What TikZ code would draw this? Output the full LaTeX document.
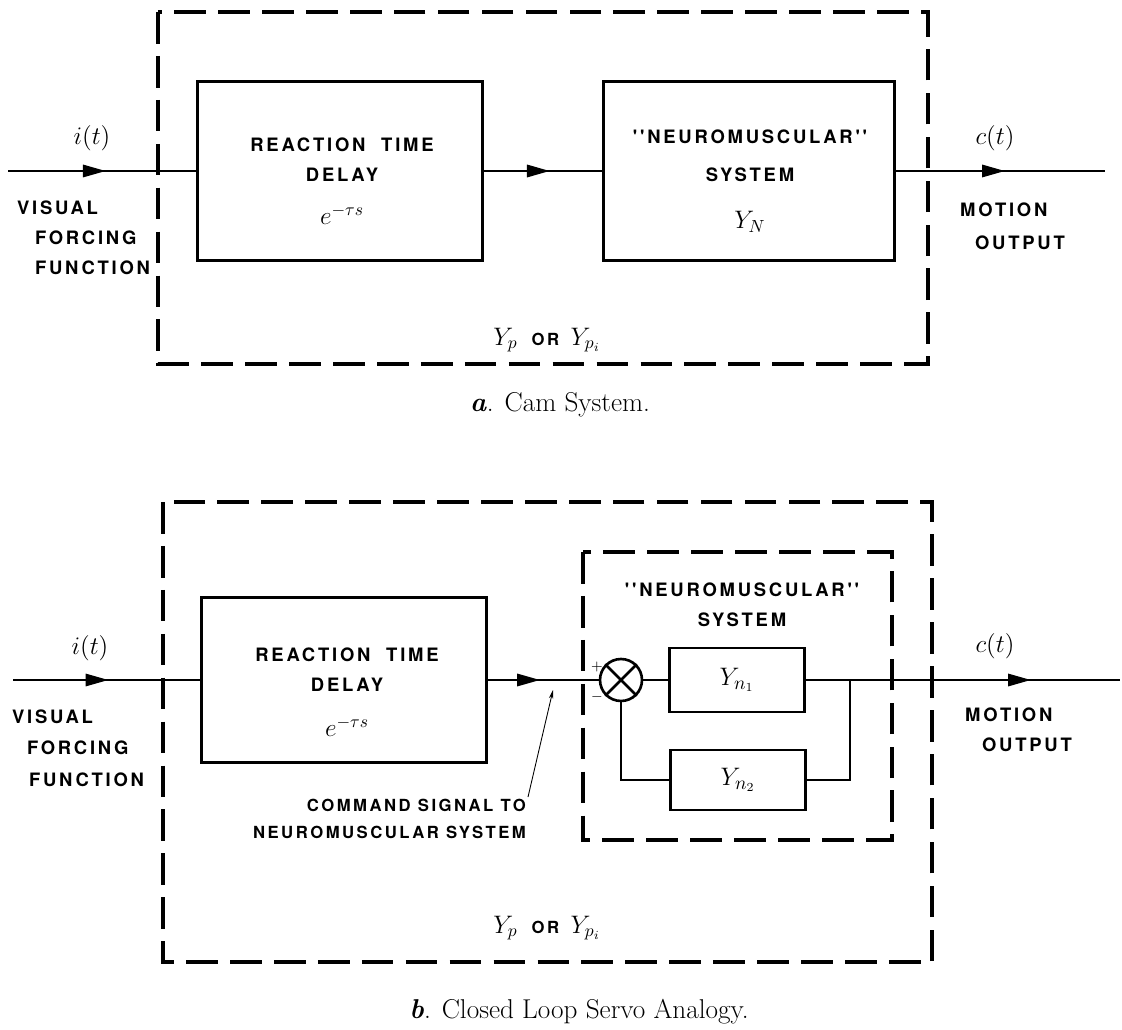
\documentclass[tikz,border=0pt]{standalone}
\usepackage{fontspec}
\usepackage{amsmath}
\usepackage{tikz}
\usetikzlibrary{arrows.meta, decorations.markings, calc}

\newfontfamily\lblfont[LetterSpace=15]{TeX Gyre Heros}

\begin{document}
\begin{tikzpicture}[
    x=0.02cm, y=-0.02cm,
    block/.style={draw, line width=1.7pt, inner sep=0pt},
    subblock/.style={draw, line width=1.5pt, inner sep=0pt, minimum width=2.7cm, font=\fontsize{15}{17}\selectfont},
    sig/.style={line width=1.3pt},
    arrowat/.style={sig, postaction={decorate},
        decoration={markings, mark=at position #1 with {\arrow{Triangle[length=13pt, width=7pt]}}}},
    pointer/.style={line width=0.5pt, -{Stealth[length=5pt, width=2.5pt]}},
    border/.style={line width=1.8pt, dash pattern=on 18pt off 7pt},
    caps/.style={font=\lblfont\bfseries\fontsize{10.5}{12}\selectfont, inner sep=1pt},
    capsm/.style={font=\lblfont\bfseries\fontsize{9.5}{15.3}\selectfont, inner sep=1pt},
    sigtxt/.style={font=\fontsize{14.5}{17}\selectfont, inner sep=1pt},
    caption/.style={font=\fontsize{15.5}{18}\selectfont}
]

\newcommand{\ypor}{$Y_p$\hspace{0.55em}{\lblfont\bfseries\fontsize{9.5}{11}\selectfont OR}\hspace{0.45em}$Y_{p_i}$}

\useasboundingbox (0,0) rectangle (1122,1030);

% --- a. Cam system ---
\draw[border] (158,12) rectangle (928,364);

\node[block, minimum width=5.7cm, minimum height=3.6cm] (delayA) at (340,171) {};
\node[block, minimum width=5.84cm, minimum height=3.6cm] (nmA) at (749,171) {};

\node[caps] at (342,145) {REACTION~~TIME};
\node[caps] at (342,175) {DELAY};
\node[sigtxt] at (342,215) {$e^{-\tau s}$};

\node[caps] at (750,137) {''NEUROMUSCULAR''};
\node[caps] at (750,175) {SYSTEM};
\node[sigtxt] at (750,222) {$Y_N$};

\coordinate (inA) at (8,171);
\coordinate (outA) at (1105,171);
\draw[arrowat=0.52] (inA) -- (delayA);
\draw[arrowat=0.56] (delayA) -- (nmA);
\draw[arrowat=0.52] (nmA) -- (outA);

\node[sigtxt] at (92,138) {$i(t)$};
\node[sigtxt] at (995,138) {$c(t)$};

\node[caps, anchor=west] at (15,208) {VISUAL};
\node[caps, anchor=west] at (33,238) {FORCING};
\node[caps, anchor=west] at (33,268) {FUNCTION};
\node[caps, anchor=west] at (958,210) {MOTION};
\node[caps, anchor=west] at (973,243) {OUTPUT};

\node[sigtxt] at (547,340) {\ypor};
\node[caption] at (560,405) {\textbf{\textit{a}}. Cam System.};

% --- b. Closed loop servo analogy ---
\draw[border] (163,502) rectangle (932,962);
\draw[border] (583,552) rectangle (892,840);

\node[block, minimum width=5.7cm, minimum height=3.32cm] (delayB) at (344,680) {};
\node[caps] at (347,655) {REACTION~~TIME};
\node[caps] at (347,685) {DELAY};
\node[sigtxt] at (347,727) {$e^{-\tau s}$};

\node[caps] at (742,590) {''NEUROMUSCULAR''};
\node[caps] at (742,620) {SYSTEM};

\node[draw, circle, line width=1.5pt, minimum size=0.84cm, inner sep=0pt] (sum) at (621,680) {};
\draw[line width=1.5pt] (sum.north west) -- (sum.south east);
\draw[line width=1.5pt] (sum.north east) -- (sum.south west);
\node[font=\footnotesize] at (597,667) {$+$};
\node[font=\footnotesize] at (597,697) {$-$};

\node[subblock, minimum height=1.28cm] (yn1) at (737,680) {$Y_{n_1}$};
\node[subblock, minimum height=1.2cm] (yn2) at (738,780) {$Y_{n_2}$};

\coordinate (jn) at (850,680);
\coordinate (inB) at (13,680);
\coordinate (outB) at (1120,680);

\draw[arrowat=0.51] (inB) -- (delayB);
\draw[arrowat=0.47] (delayB) -- (sum);
\draw[sig] (sum) -- (yn1);
\draw[sig] (yn1) -- (jn);
\draw[sig] (jn) |- (yn2);
\draw[sig] (yn2) -| (sum);
\draw[arrowat=0.67] (jn) -- (outB);

\node[sigtxt] at (90,648) {$i(t)$};
\node[sigtxt] at (995,646) {$c(t)$};

\node[caps, anchor=west] at (10,717) {VISUAL};
\node[caps, anchor=west] at (25,748) {FORCING};
\node[caps, anchor=west] at (27,780) {FUNCTION};
\node[caps, anchor=west] at (963,715) {MOTION};
\node[caps, anchor=west] at (980,745) {OUTPUT};

\node[capsm, align=right, anchor=north east] (cmd) at (528,797) {COMMAND SIGNAL TO\\NEUROMUSCULAR SYSTEM};
\coordinate (cmdtip) at (553,690);
\draw[pointer] (cmd.north east) -- (cmdtip);

\node[sigtxt] at (547,928) {\ypor};
\node[caption] at (579,1012) {\textbf{\textit{b}}. Closed Loop Servo Analogy.};

\end{tikzpicture}
\end{document}
